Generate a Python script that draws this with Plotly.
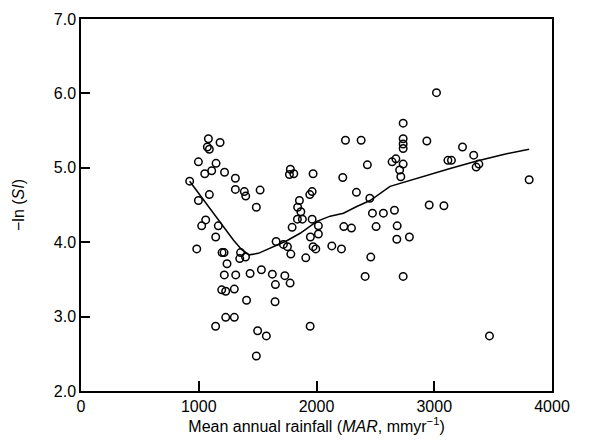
import plotly.graph_objects as go

# Scatter data: mean annual rainfall (mm/yr) vs -ln(SI)
mar = [923, 997, 997, 983, 1025, 1059, 1051, 1073, 1090, 1082, 1181, 1090, 1110, 1147,
       1166, 1144, 1143, 1198, 1215, 1219, 1240, 1217, 1314, 1195, 1229, 1302, 1229, 1302,
       1311, 1311, 1387, 1399, 1355, 1348, 1397, 1406, 1436, 1489, 1521, 1532, 1500, 1574,
       1489, 1625, 1648, 1651, 1657, 1719, 1753, 1731, 1776, 1782, 1793, 1778, 1770, 1807,
       1840, 1855, 1867, 1838, 1880, 1909, 1946, 1943, 1963, 1971, 1963, 1948, 1971, 1994,
       2016, 2016, 2130, 2212, 2223, 2246, 2232, 2297, 2339, 2379, 2413, 2432, 2453, 2461,
       2475, 2506, 2568, 2662, 2642, 2674, 2685, 2682, 2706, 2716, 2736, 2736, 2736, 2736,
       2736, 2736, 2789, 2937, 2957, 3019, 3082, 3116, 3146, 3240, 3335, 3356, 3379, 3469,
       3806]
neg_ln_si = [4.82, 5.08, 4.56, 3.91, 4.22, 4.30, 4.92, 5.28, 5.25, 5.39, 5.34, 4.64, 4.96, 5.06,
             4.22, 4.07, 2.87, 3.86, 3.86, 4.94, 3.71, 3.56, 3.56, 3.36, 3.34, 3.37, 2.99, 2.99,
             4.86, 4.71, 4.68, 4.62, 3.86, 3.78, 3.80, 3.22, 3.58, 4.47, 4.70, 3.63, 2.81, 2.74,
             2.47, 3.57, 3.20, 3.43, 4.01, 3.97, 3.94, 3.55, 3.45, 3.84, 4.20, 4.98, 4.91, 4.92,
             4.47, 4.56, 4.41, 4.31, 4.31, 3.79, 2.87, 4.64, 4.68, 4.92, 4.31, 4.07, 3.94, 3.91,
             4.22, 4.11, 3.95, 3.91, 4.87, 5.37, 4.21, 4.19, 4.67, 5.37, 3.54, 5.04, 4.59, 3.80,
             4.39, 4.21, 4.39, 4.43, 5.08, 5.12, 4.22, 4.04, 4.97, 4.88, 5.05, 5.26, 5.32, 5.39,
             5.60, 3.54, 4.07, 5.36, 4.50, 6.01, 4.49, 5.10, 5.10, 5.28, 5.17, 5.01, 5.05, 2.74,
             4.84]

# Smoothed trend line
trend_x = [923, 1166, 1294, 1365, 1430, 1506, 1620, 1748, 1861, 2003, 2116, 2229, 2342,
           2455, 2625, 2795, 2993, 3135, 3362, 3588, 3806]
trend_y = [4.82, 4.30, 4.03, 3.90, 3.83, 3.85, 3.93, 4.02, 4.12, 4.28, 4.35, 4.39, 4.48,
           4.56, 4.75, 4.83, 4.93, 4.99, 5.09, 5.18, 5.25]

x_ticks = [0, 1000, 2000, 3000, 4000]
y_ticks = [2.0, 3.0, 4.0, 5.0, 6.0, 7.0]

FONT = "Arial, 'Liberation Sans', Helvetica, sans-serif"

fig = go.Figure()
fig.add_trace(go.Scatter(
    x=mar, y=neg_ln_si, mode="markers",
    marker=dict(symbol="circle-open", size=7.5, color="black", line=dict(width=1.5, color="black")),
    showlegend=False, hoverinfo="skip"))
fig.add_trace(go.Scatter(
    x=trend_x, y=trend_y, mode="lines",
    line=dict(color="black", width=1.5),
    showlegend=False, hoverinfo="skip"))

fig.update_layout(
    width=581, height=437,
    margin=dict(l=73, r=37, t=11, b=54),
    paper_bgcolor="white", plot_bgcolor="white",
    font=dict(family=FONT, size=16, color="black"),
    xaxis=dict(
        range=[0, 4000], tickvals=x_ticks, ticktext=[str(v) for v in x_ticks],
        ticks="inside", ticklen=10, tickwidth=1.5, tickcolor="black",
        showline=True, linecolor="black", linewidth=1.5, mirror=True,
        showgrid=False, zeroline=False, automargin=False,
        ticklabeloverflow="allow",
        tickfont=dict(size=16),
        title=dict(text="Mean annual rainfall (<i>MAR</i>, mmyr<sup>−1</sup>)", font=dict(size=16), standoff=4),
    ),
    yaxis=dict(
        range=[2, 7], tickvals=y_ticks, ticktext=[f"{v:.1f}" for v in y_ticks],
        ticks="inside", ticklen=9, tickwidth=1.5, tickcolor="black",
        showline=True, linecolor="black", linewidth=1.5, mirror=True,
        showgrid=False, zeroline=False, automargin=False,
        ticklabeloverflow="allow",
        tickfont=dict(size=16),
        title=dict(text="−ln (<i>SI</i>)", font=dict(size=16), standoff=25),
    ),
)

fig.write_html("out.html")
